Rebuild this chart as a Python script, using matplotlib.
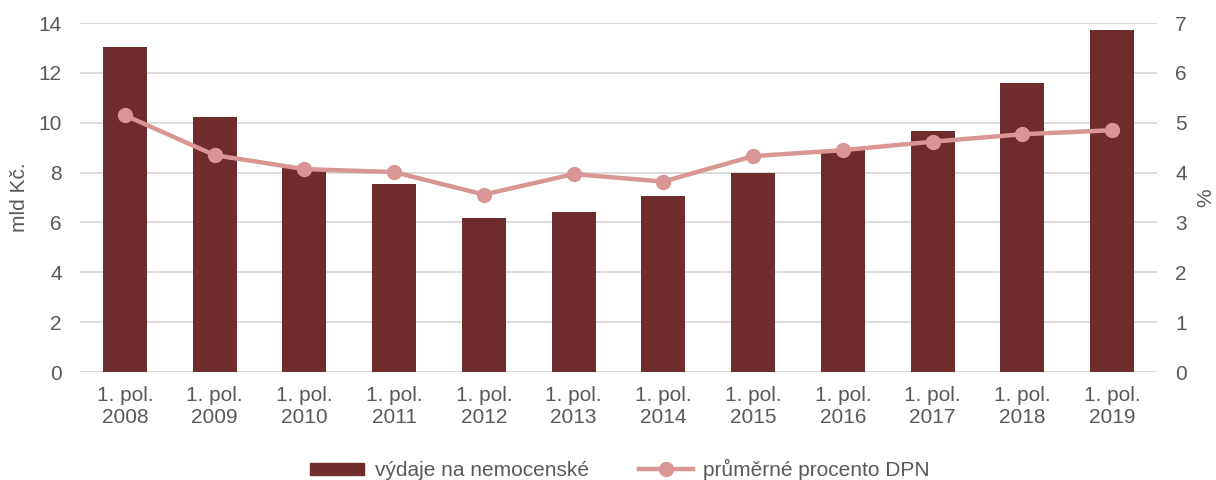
import numpy as np
import matplotlib.pyplot as plt
from matplotlib.lines import Line2D
from matplotlib.patches import Patch

plt.rcParams['font.family'] = ['Liberation Sans', 'DejaVu Sans']

labels = ["1. pol.\n2008", "1. pol.\n2009", "1. pol.\n2010", "1. pol.\n2011",
          "1. pol.\n2012", "1. pol.\n2013", "1. pol.\n2014", "1. pol.\n2015",
          "1. pol.\n2016", "1. pol.\n2017", "1. pol.\n2018", "1. pol.\n2019"]
vydaje = [13.04, 10.25, 8.18, 7.56, 6.18, 6.42, 7.06, 7.98, 8.9, 9.67, 11.58, 13.74]
procento = [5.15, 4.35, 4.07, 4.01, 3.56, 3.97, 3.82, 4.33, 4.45, 4.62, 4.77, 4.85]

barc = '#6E2C2C'
linec = '#D99694'
txt = '#595959'
fs = 15

fig = plt.figure(figsize=(12.16, 4.8), dpi=100)
ax = fig.add_axes([0.0658, 0.225, 0.8857, 0.727])
x = np.arange(len(labels))
ax.bar(x, vydaje, width=0.49, color=barc, zorder=2)
ax.set_xlim(-0.5, len(labels) - 0.5)
ax.set_ylim(0, 14)
ax.set_yticks(range(0, 15, 2))
ax.yaxis.grid(True, color='#D9D9D9', linewidth=1.3, zorder=0)
ax.set_axisbelow(True)
for s in ax.spines.values():
    s.set_visible(False)
ax.tick_params(length=0, labelsize=fs, colors=txt)
ax.tick_params(axis='y', pad=13)
ax.tick_params(axis='x', pad=10)
ax.set_xticks(x)
ax.set_xticklabels(labels, linespacing=1.2)
ax.set_ylabel('mld Kč.', fontsize=fs, color=txt, labelpad=7)

ax2 = ax.twinx()
ax2.plot(x, procento, color=linec, linewidth=3.2, marker='o', markersize=10, zorder=3)
ax2.set_ylim(0, 7)
ax2.set_yticks(range(0, 8))
for s in ax2.spines.values():
    s.set_visible(False)
ax2.tick_params(length=0, labelsize=fs, colors=txt, pad=13)
ax2.set_ylabel('%', fontsize=fs, color=txt, labelpad=7)

handles = [Patch(color=barc), Line2D([], [], color=linec, linewidth=3.2, marker='o', markersize=10)]
fig.legend(handles, ['výdaje na nemocenské', 'průměrné procento DPN'],
           loc='center', bbox_to_anchor=(0.51, 0.022), ncol=2, frameon=False,
           fontsize=fs, labelcolor=txt, handlelength=2.6, handleheight=0.5,
           handletextpad=0.5, columnspacing=2.4)

fig.savefig('out.png', dpi=100)
